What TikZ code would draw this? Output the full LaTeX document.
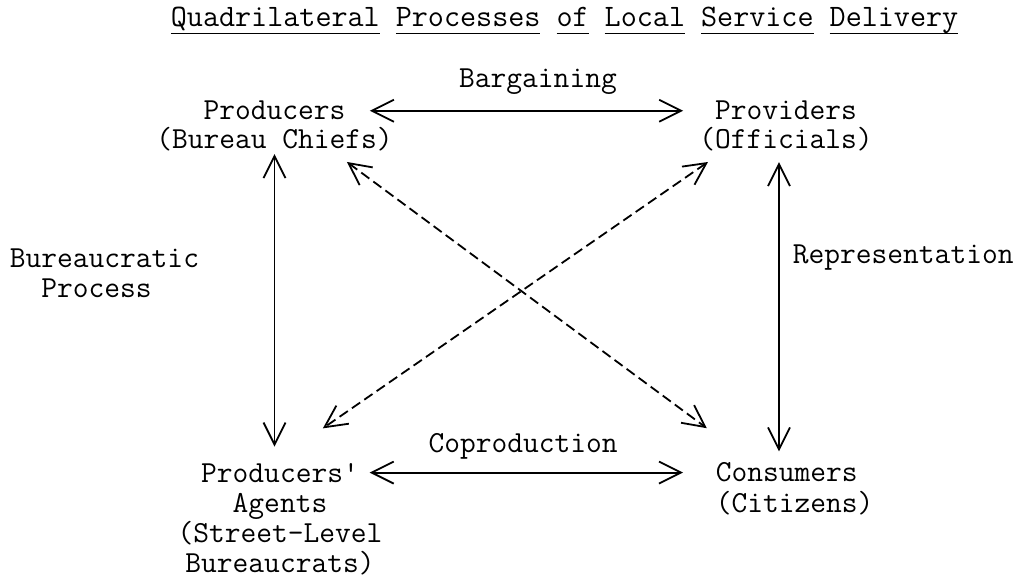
\documentclass[tikz,border=0pt]{standalone}
\usepackage{fontspec}
\usetikzlibrary{arrows.meta}
\tikzset{every node/.append style={font=\ttfamily\fontsize{15.3}{15}\selectfont, inner sep=0pt}}
% underline one word at a time, spaces stay bare
\newcommand{\uword}[1]{\setbox0=\hbox{#1}\rlap{\rule[-3.6pt]{\wd0}{0.7pt}}\box0\relax}

\begin{document}
\begin{tikzpicture}[x=1pt, y=1pt, line width=0.9pt, >={Straight Barb[length=11pt, width=11pt]}]
    \useasboundingbox (0,0) rectangle (510.5,-288);
    \node[anchor=base west, font=\ttfamily\fontsize{15.6}{16}\selectfont] (title) at (85,-13.5)
        {\uword{Quadrilateral} \uword{Processes} \uword{of} \uword{Local} \uword{Service} \uword{Delivery}};

    % the four corners, one node per line
    \node[anchor=base] (prod) at (137.25,-60) {Producers};
    \node[anchor=base] (prodsub) at (137.25,-74.5) {(Bureau Chiefs)};
    \node[anchor=base] (prov) at (393,-60) {Providers};
    \node[anchor=base] (provsub) at (393,-74.5) {(Officials)};
    \node[anchor=base] (agent) at (140,-241) {Producers\textquotesingle};
    \node[anchor=base] (agent2) at (140,-256) {Agents};
    \node[anchor=base] (agent3) at (140,-271) {(Street-Level};
    \node[anchor=base] (agent4) at (140,-286) {Bureaucrats)};
    \node[anchor=base west] (cons) at (357.5,-240.5) {Consumers};
    \node[anchor=base west] (conssub) at (357.5,-256) {(Citizens)};

    % side labels
    \node[anchor=base west] (bureau) at (4.5,-134) {Bureaucratic};
    \node[anchor=base west] (bureau2) at (4.5,-149) {\phantom{Bu}Process};
    \node[anchor=base west] (repr) at (396,-132) {Representation};

    % solid two-way links
    \draw[<->, shorten <=11.8pt, shorten >=15.5pt] (prod.east) --
        node[pos=0.521, anchor=base, yshift=11.5pt] (barg) {Bargaining} (prod.east -| prov.west);
    \draw[<->, shorten <=5pt, shorten >=16pt] (agent.east) --
        node[pos=0.46, anchor=base, yshift=10pt] (copr) {Coproduction} (agent.east -| cons.west);
    \draw[<->, shorten <=0.8pt, shorten >=7.8pt] (prodsub.south) -- (prodsub.south |- agent.north);
    \draw[<->, shorten <=4.8pt, shorten >=4.8pt] ([xshift=-3.5pt]provsub.south) -- ([xshift=-3.5pt]provsub.south |- cons.north);

    % dashed diagonals
    \draw[<->, dash pattern=on 5pt off 2.5pt, shorten <=8pt, shorten >=27.6pt]
        ([xshift=29.75pt]prodsub.south) -- ([xshift=-17.8pt]cons.north);
    \draw[<->, dash pattern=on 5pt off 2.5pt, shorten <=8.4pt, shorten >=29.7pt]
        ([xshift=-32.1pt]provsub.south) -- ([xshift=-3pt]agent.north);
\end{tikzpicture}
\end{document}
